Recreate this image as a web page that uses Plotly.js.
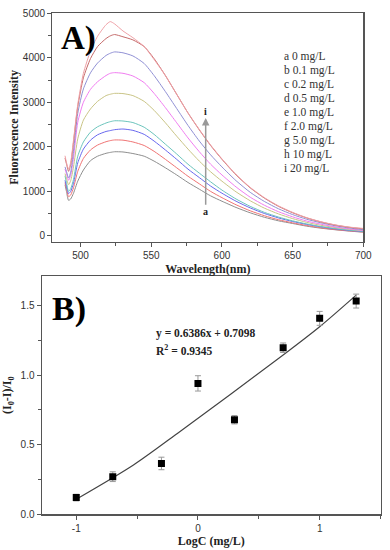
<!DOCTYPE html>
<html>
<head>
<meta charset="utf-8">
<script src="https://cdn.plot.ly/plotly-3.0.1.min.js"></script>
<style>html,body{margin:0;padding:0;background:#fff;}#chart{width:390px;height:550px;}</style>
</head>
<body>
<div id="chart"></div>
<script>
// ---- Panel A data: fluorescence spectra ----
const wavelength = [489, 490, 491.5, 493, 495, 498, 502, 507, 512, 518, 521, 524, 530, 537, 545, 552, 560, 568, 576, 584, 592, 600, 610, 620, 630, 640, 650, 660, 670, 680, 690, 700];
const curveA = [1150, 1000, 800, 830, 960, 1230, 1480, 1690, 1790, 1855, 1875, 1890, 1885, 1850, 1790, 1680, 1530, 1370, 1200, 1050, 900, 780, 640, 520, 420, 340, 280, 220, 175, 140, 110, 85];
const curveB = [1200, 1070, 880, 920, 1080, 1450, 1740, 1930, 2040, 2115, 2140, 2155, 2150, 2110, 2030, 1900, 1720, 1530, 1340, 1170, 1000, 860, 700, 565, 455, 365, 295, 235, 185, 145, 115, 90];
const curveC = [1250, 1120, 950, 1000, 1180, 1640, 1950, 2150, 2270, 2345, 2365, 2385, 2400, 2370, 2280, 2130, 1930, 1720, 1500, 1310, 1120, 960, 780, 630, 505, 405, 325, 260, 205, 160, 125, 100];
const curveD = [1350, 1200, 1000, 1060, 1270, 1790, 2110, 2330, 2450, 2535, 2565, 2585, 2580, 2545, 2440, 2280, 2060, 1840, 1610, 1410, 1215, 1030, 830, 665, 530, 425, 340, 270, 212, 168, 132, 105];
const curveE = [1400, 1300, 1150, 1240, 1550, 2180, 2600, 2850, 3020, 3150, 3180, 3200, 3195, 3150, 3020, 2820, 2540, 2240, 1950, 1680, 1440, 1230, 990, 790, 625, 495, 390, 305, 240, 190, 150, 120];
const curveF = [1500, 1400, 1250, 1360, 1750, 2550, 3000, 3290, 3460, 3600, 3650, 3665, 3650, 3590, 3440, 3200, 2880, 2540, 2200, 1890, 1610, 1370, 1100, 870, 690, 545, 430, 335, 265, 205, 160, 125];
const curveG = [1550, 1450, 1300, 1430, 1900, 2750, 3300, 3660, 3880, 4050, 4100, 4130, 4110, 4040, 3870, 3600, 3240, 2860, 2480, 2130, 1820, 1550, 1240, 980, 775, 610, 480, 375, 295, 230, 180, 140];
const curveH = [1750, 1620, 1450, 1600, 2100, 2900, 3550, 3980, 4250, 4430, 4490, 4520, 4470, 4400, 4250, 3980, 3600, 3180, 2760, 2380, 2030, 1720, 1370, 1080, 850, 665, 520, 405, 315, 245, 195, 160];
const curveI = [1800, 1650, 1500, 1650, 2150, 2950, 3650, 4150, 4480, 4740, 4810, 4760, 4600, 4450, 4250, 3960, 3600, 3180, 2760, 2390, 2040, 1730, 1380, 1090, 860, 675, 530, 410, 320, 250, 200, 170];
const curveLetters = ['a', 'b', 'c', 'd', 'e', 'f', 'g', 'h', 'i'];
const concLabels = ['0 mg/L', '0.1 mg/L', '0.2 mg/L', '0.5 mg/L', '1.0 mg/L', '2.0 mg/L', '5.0 mg/L', '10 mg/L', '20 mg/L'];
const curveColors = ['#8e8e8e', '#ef7474', '#6868ee', '#6cc4bc', '#c9c486', '#f07cf0', '#9090d4', '#c46a6a', '#eea0a6'];
const spectra = [curveA, curveB, curveC, curveD, curveE, curveF, curveG, curveH, curveI];

// ---- Panel B data: calibration ----
const logC = [-1, -0.7, -0.3, 0, 0.3, 0.7, 1, 1.3];
const response = [0.12, 0.27, 0.365, 0.94, 0.679, 1.196, 1.407, 1.531];
const responseErr = [0.024, 0.035, 0.045, 0.055, 0.03, 0.034, 0.05, 0.05];
const fitX = [-1, -0.53, -0.15, 0.7, 1, 1.3];
const fitY = [0.108, 0.354, 0.593, 1.144, 1.347, 1.574];

const W = 390, H = 550;
const serif = 'Liberation Serif, Times New Roman, serif';
const sans = 'Liberation Sans, Arial, sans-serif';

const traces = spectra.map((vals, k) => ({
  x: wavelength, y: vals, type: 'scatter', mode: 'lines',
  line: {color: curveColors[k], width: 1, shape: 'spline', smoothing: 0.6},
  xaxis: 'x', yaxis: 'y', hoverinfo: 'skip', showlegend: false
}));

traces.push({
  x: fitX, y: fitY, type: 'scatter', mode: 'lines',
  line: {color: '#444', width: 1.2, shape: 'spline', smoothing: 0.8},
  xaxis: 'x2', yaxis: 'y2', showlegend: false
});
traces.push({
  x: logC, y: response, type: 'scatter', mode: 'markers',
  marker: {symbol: 'square', size: 7, color: '#000'},
  error_y: {type: 'data', array: responseErr, visible: true, color: '#999', thickness: 1, width: 3},
  xaxis: 'x2', yaxis: 'y2', showlegend: false
});

const axCommon = {
  showgrid: false, zeroline: false, showline: true, linecolor: '#555', linewidth: 1.2,
  mirror: true, ticks: 'outside', ticklen: 4, tickwidth: 1, tickcolor: '#555',
  tickfont: {family: sans, size: 10, color: '#333'}
};
const titleFont = {family: serif, size: 12, color: '#222', weight: 'bold'};

const annotations = [];
// legend text lines
curveLetters.forEach((l, k) => {
  annotations.push({
    xref: 'paper', yref: 'paper', x: 282 / W, y: 1 - (56.7 + k * 14) / H,
    xanchor: 'left', yanchor: 'middle', showarrow: false,
    text: l + ' ' + concLabels[k], font: {family: serif, size: 11.5, color: '#333'}
  });
});
// arrow from label a up to label i
annotations.push({
  xref: 'x', yref: 'y', axref: 'x', ayref: 'y',
  x: 588.5, y: 2650, ax: 588.5, ay: 545,
  showarrow: true, arrowhead: 2, arrowsize: 1, arrowwidth: 1.5, arrowcolor: '#999',
  text: 'a', font: {family: serif, size: 10, color: '#222', weight: 'bold'}
});
annotations.push({xref: 'x', yref: 'y', x: 588.5, y: 2790, showarrow: false, text: 'i',
  xanchor: 'center', yanchor: 'middle',
  font: {family: serif, size: 10, color: '#222', weight: 'bold'}});
// panel labels
annotations.push({xref: 'paper', yref: 'paper', x: 78 / W, y: 1 - 38 / H, showarrow: false,
  xanchor: 'center', yanchor: 'middle',
  text: 'A)', font: {family: serif, size: 33, color: '#000', weight: 'bold'}});
annotations.push({xref: 'paper', yref: 'paper', x: 69 / W, y: 1 - 309 / H, showarrow: false,
  xanchor: 'center', yanchor: 'middle',
  text: 'B)', font: {family: serif, size: 34, color: '#000', weight: 'bold'}});
// equation
annotations.push({xref: 'paper', yref: 'paper', x: 154 / W, y: 1 - 333 / H, xanchor: 'left', yanchor: 'middle', showarrow: false,
  text: 'y = 0.6386x + 0.7098', font: {family: serif, size: 11.5, color: '#222', weight: 'bold'}});
annotations.push({xref: 'paper', yref: 'paper', x: 154 / W, y: 1 - 350 / H, xanchor: 'left', yanchor: 'middle', showarrow: false,
  text: 'R<sup>2</sup> = 0.9345', font: {family: serif, size: 11.5, color: '#222', weight: 'bold'}});

const layout = {
  width: W, height: H, margin: {l: 0, r: 0, t: 0, b: 0},
  paper_bgcolor: '#fff', plot_bgcolor: '#fff', showlegend: false,
  xaxis: Object.assign({}, axCommon, {
    domain: [52.3 / W, 363.3 / W], anchor: 'y', range: [480, 700],
    tickvals: [500, 550, 600, 650, 700],
    minor: {dtick: 25, tick0: 500, ticks: 'outside', ticklen: 3, tickcolor: '#555'},
    title: {text: 'Wavelength(nm)', font: titleFont, standoff: 4}
  }),
  yaxis: Object.assign({}, axCommon, {
    domain: [1 - 242 / H, 1 - 12.7 / H], anchor: 'x', range: [-135, 5010],
    tickvals: [0, 1000, 2000, 3000, 4000, 5000],
    minor: {dtick: 500, tick0: 0, ticks: 'outside', ticklen: 3, tickcolor: '#555'},
    title: {text: 'Fluorescence Intensity', font: titleFont, standoff: 1}
  }),
  xaxis2: Object.assign({}, axCommon, {
    domain: [41.7 / W, 381 / W], anchor: 'y2', range: [-1.284, 1.504],
    tickvals: [-1, 0, 1], ticktext: ['-1', '0', '1'],
    minor: {dtick: 0.5, tick0: 0, ticks: 'outside', ticklen: 3, tickcolor: '#555'},
    title: {text: 'LogC (mg/L)', font: titleFont, standoff: 4}
  }),
  yaxis2: Object.assign({}, axCommon, {
    domain: [1 - 514.3 / H, 1 - 276 / H], anchor: 'x2', range: [0, 1.711],
    tickvals: [0, 0.5, 1, 1.5], ticktext: ['0.0', '0.5', '1.0', '1.5'],
    minor: {dtick: 0.25, tick0: 0, ticks: 'outside', ticklen: 3, tickcolor: '#555'},
    title: {text: '(I<sub>0</sub>-I)/I<sub>0</sub>', font: titleFont, standoff: 8}
  }),
  annotations: annotations
};

Plotly.newPlot('chart', traces, layout, {displayModeBar: false, staticPlot: true});
</script>
</body>
</html>
